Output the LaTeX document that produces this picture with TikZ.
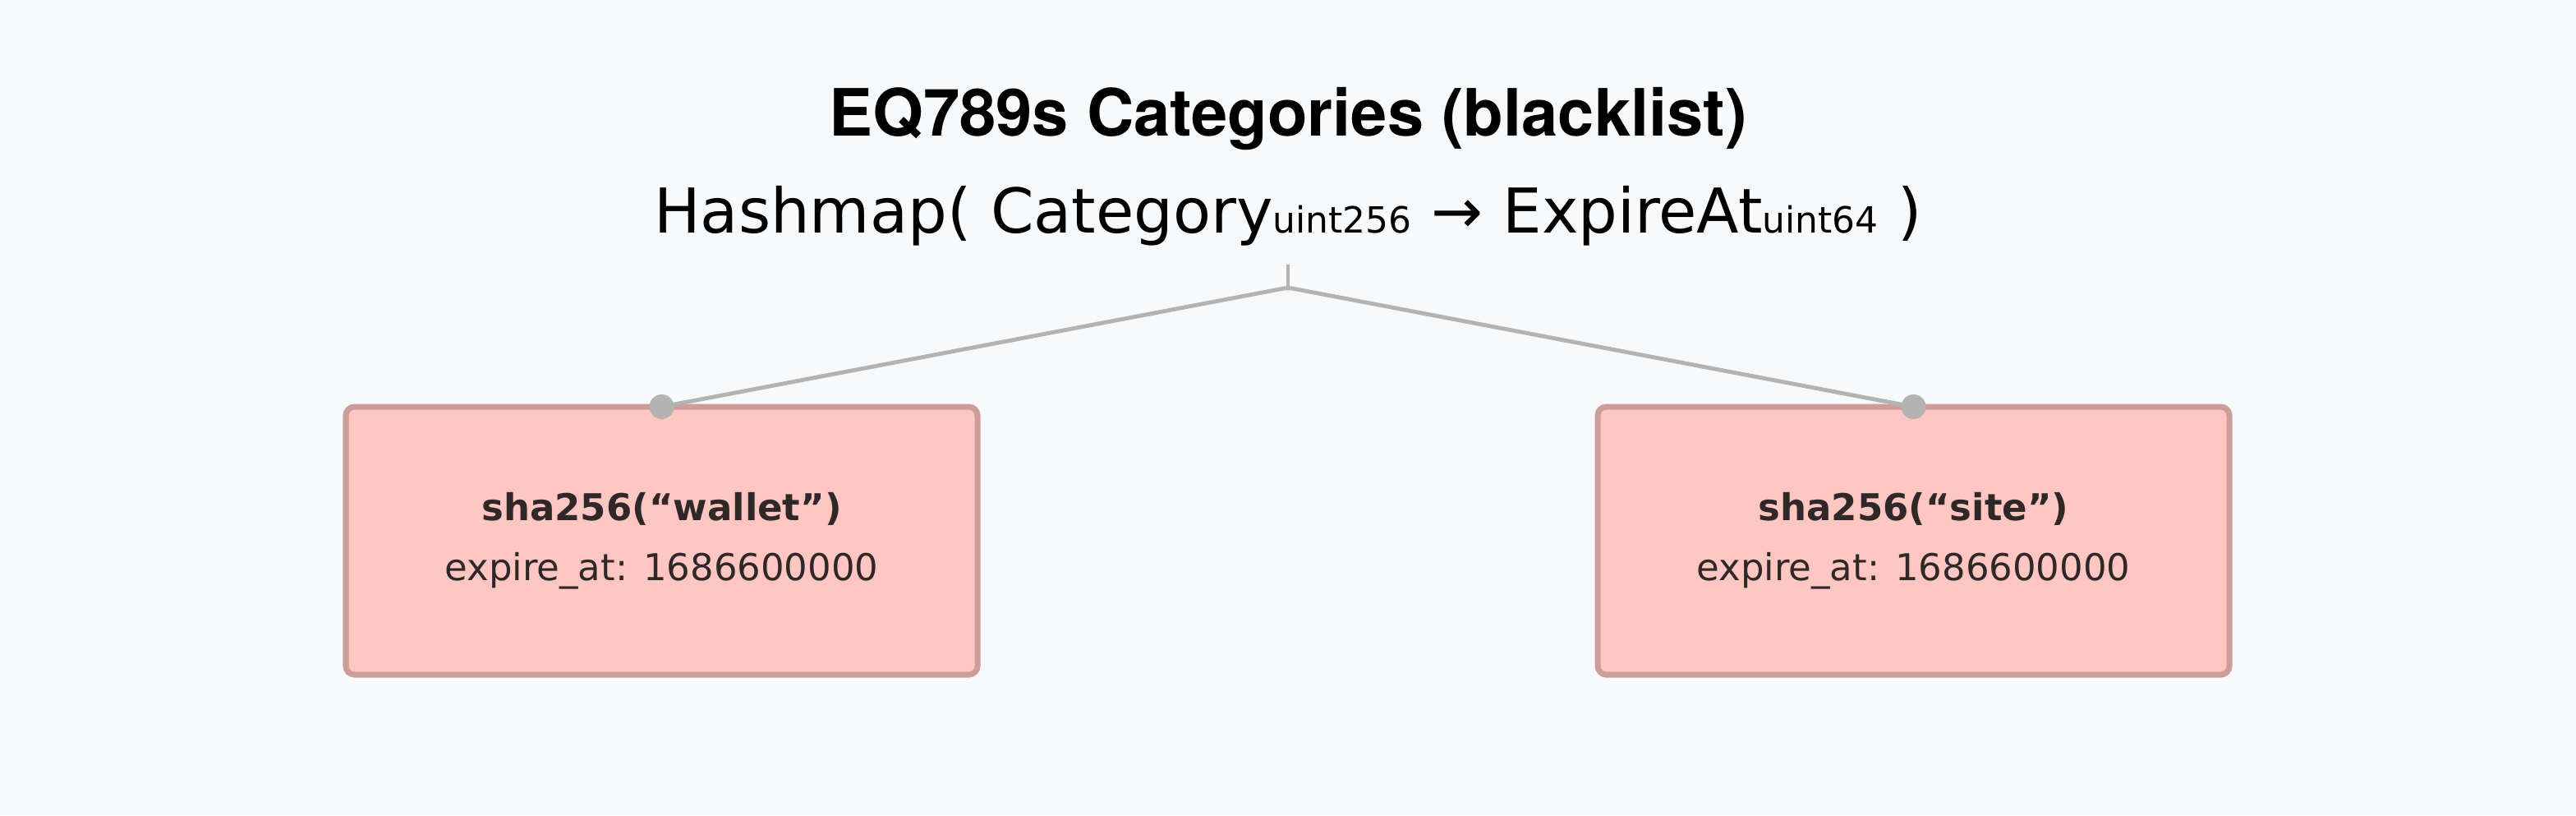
\documentclass[tikz,border=0pt]{standalone}
\usepackage{fontspec}
\setmainfont{DejaVu Sans}
\newfontfamily\headfont{TeX Gyre Heros}
\newfontfamily\arrowfont{DejaVu Sans}
\usepackage{tikz}
\usetikzlibrary{positioning, shapes}

\definecolor{bgcol}{HTML}{F8F9FB}
\definecolor{boxfill}{HTML}{FFC6C2}
\definecolor{boxline}{HTML}{CC9D99}
\definecolor{wirecol}{HTML}{B3B3B3}
\definecolor{boxtext}{HTML}{302828}

\newcommand{\ktype}[1]{{\fontsize{12.5}{12.5}\selectfont #1}}

\tikzset{
	entry/.style={draw=boxline, fill=boxfill, line width=2pt, rounded corners=3pt,
		minimum width=7.69cm, minimum height=3.26cm, outer sep=0pt,
		align=center, text=boxtext, font=\fontsize{12.8}{20.8}\selectfont},
	knob/.style={circle, fill=wirecol, inner sep=0pt, minimum size=0.3cm},
	wire/.style={draw=wirecol, line width=1.4pt, rounded corners=2pt},
}

\begin{document}
\begin{tikzpicture}
	\fill[bgcol] (0,0) rectangle (31.36,-9.92);
	\useasboundingbox (0,0) rectangle (31.36,-9.92);

	\node[anchor=base, font=\headfont\bfseries\fontsize{22.6}{28}\selectfont] (title) at (15.68,-1.65) {EQ789s Categories (blacklist)};
	\node[anchor=base, font=\fontsize{21.4}{26}\selectfont] (map) at (15.68,-2.83)
		{Hashmap( Category\ktype{uint256} {\arrowfont →} ExpireAt\ktype{uint64} )};

	\coordinate (stem) at (15.68,-3.22);
	\coordinate [below=0.28cm of stem] (fork);

	\node[entry] (wallet) at (8.055,-6.58) {\textbf{sha256(“wallet”)}\\expire\_at: 1686600000};
	\node[entry, right=7.55cm of wallet] (site) {\textbf{sha256(“site”)}\\expire\_at: 1686600000};
	%\node[entry, below right=of fork] (site) {};

	\node[knob] (wk) at (wallet.north) {};
	\node[knob] (sk) at (site.north) {};

	\draw[wire] (stem) -- (fork);
	\draw[wire] (wk.center) -- (fork) -- (sk.center);
\end{tikzpicture}
\end{document}
